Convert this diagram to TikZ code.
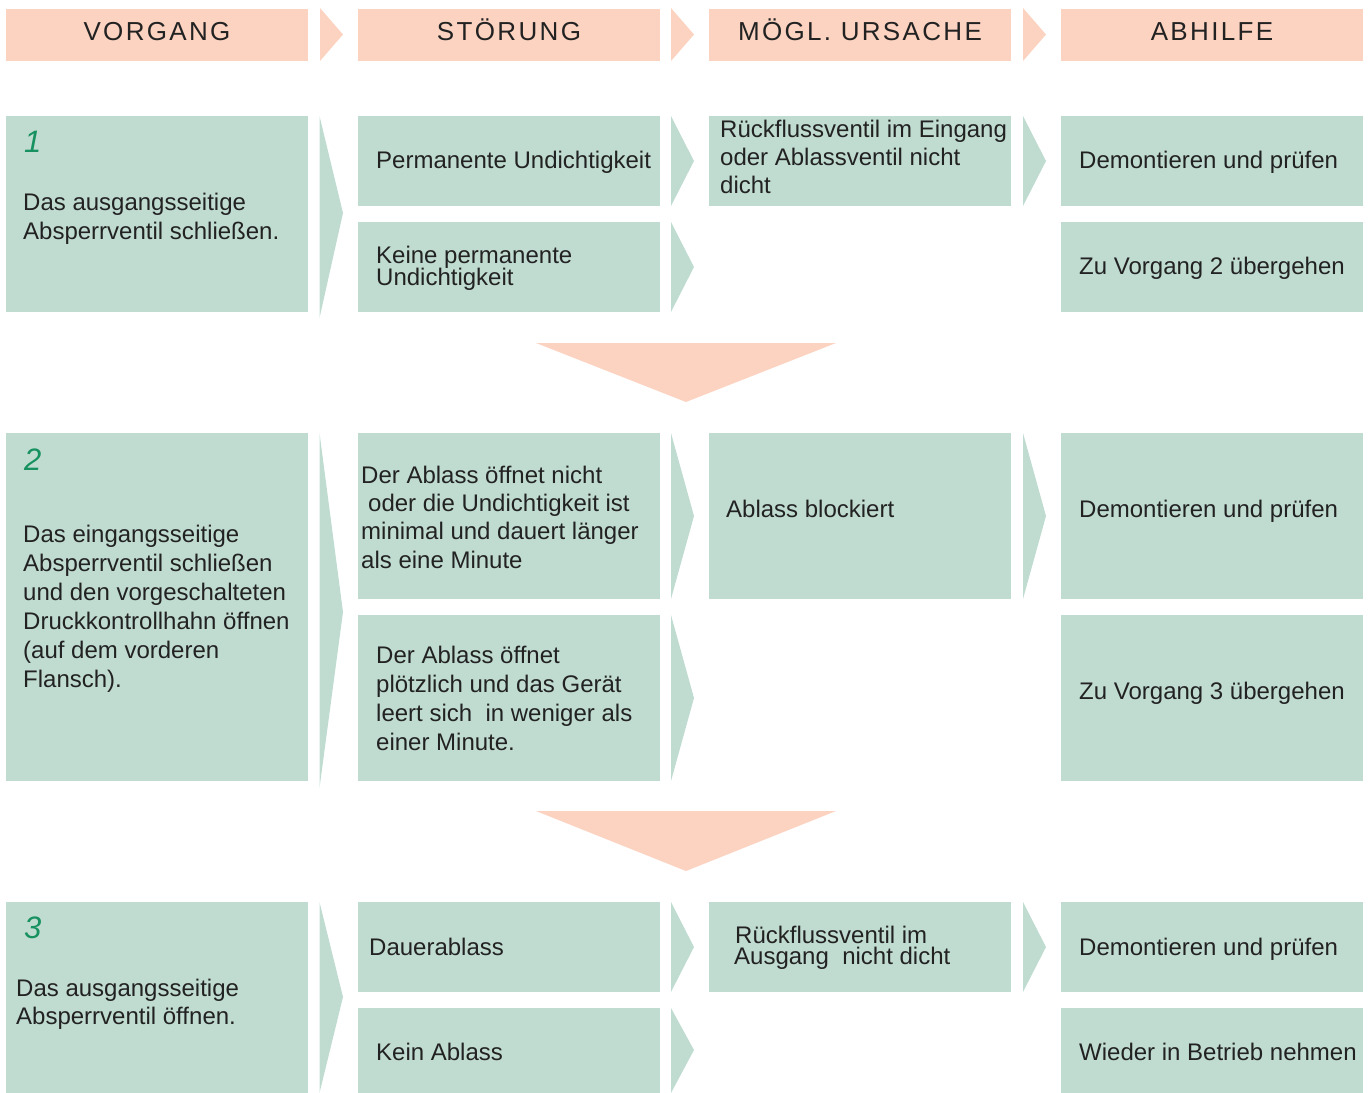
\documentclass[tikz,border=0pt]{standalone}
\usepackage{fontspec}
\setmainfont{Liberation Sans}
\definecolor{peach}{HTML}{FCD3C1}
\definecolor{mint}{HTML}{C0DCD1}
\definecolor{txtc}{HTML}{222222}
\definecolor{numc}{HTML}{17915F}
\begin{document}
\begin{tikzpicture}[x=1pt,y=-1pt,
  hbox/.style={fill=peach,inner sep=0pt,outer sep=0pt,anchor=north west,minimum width=302pt,minimum height=52pt},
  gbox/.style={fill=mint,inner sep=0pt,outer sep=0pt,anchor=north west,minimum width=302pt},
  htxt/.style={text=txtc,inner sep=0pt,anchor=base,font=\fontsize{26}{30}\selectfont\addfontfeature{LetterSpace=9}},
  txt/.style={text=txtc,inner sep=0pt,anchor=base west,align=left,font=\fontsize{24}{29}\selectfont},
  tighttxt/.style={txt,font=\fontsize{24}{22.5}\selectfont},
  numtxt/.style={text=numc,inner sep=0pt,anchor=base west,font=\fontsize{31}{31}\selectfont\itshape},
  chev/.style={fill=mint},
  hchev/.style={fill=peach},
  down/.style={fill=peach}]
\useasboundingbox (0,0) rectangle (1369,1093);
% header
\node[hbox] (h1) at (6,9) {};
\node[hbox] (h2) at (358,9) {};
\node[hbox] (h3) at (709,9) {};
\node[hbox] (h4) at (1061,9) {};
\node[htxt] (ht1) at (157,40) {VORGANG};
\node[htxt] (ht2) at (509,40) {STÖRUNG};
\node[htxt] (ht3) at (860,40) {MÖGL. URSACHE};
\node[htxt] (ht4) at (1212,40) {ABHILFE};
\foreach \x in {320,671,1023}{\fill[hchev] (\x,8) -- (\x+23,34.5) -- (\x,61) -- cycle;}
% row 1
\node[gbox,minimum height=196pt] (a1) at (6,116) {};
\node[gbox,minimum height=90pt] (b1) at (358,116) {};
\node[gbox,minimum height=90pt] (b2) at (358,222) {};
\node[gbox,minimum height=90pt] (c1) at (709,116) {};
\node[gbox,minimum height=90pt] (d1) at (1061,116) {};
\node[gbox,minimum height=90pt] (d2) at (1061,222) {};
\fill[chev] (319.5,116) -- (343,213) -- (319.5,318) -- cycle;
\fill[chev] (671,116) -- (694,161) -- (671,206) -- cycle;
\fill[chev] (671,222) -- (694,267) -- (671,312) -- cycle;
\fill[chev] (1023,116) -- (1046,161) -- (1023,206) -- cycle;
\node[numtxt] (n1) at (24,152) {1};
\node[txt] (ta1) at (23,239) {Das ausgangsseitige\\Absperrventil schließen.};
\node[txt] (tb1) at (376,168) {Permanente Undichtigkeit};
\node[tighttxt] (tb2) at (376,285.5) {Keine permanente\\Undichtigkeit};
\node[txt,font=\fontsize{24}{28}\selectfont] (tc1) at (720,193) {Rückflussventil im Eingang\\oder Ablassventil nicht\\dicht};
\node[txt] (td1) at (1079,168) {Demontieren und prüfen};
\node[txt] (td2) at (1079,274) {Zu Vorgang 2 übergehen};
% down arrow 1
\fill[down] (536,343) -- (836,343) -- (686,402) -- cycle;
% row 2
\node[gbox,minimum height=348pt] (a2) at (6,433) {};
\node[gbox,minimum height=166pt] (b3) at (358,433) {};
\node[gbox,minimum height=166pt] (b4) at (358,615) {};
\node[gbox,minimum height=166pt] (c2) at (709,433) {};
\node[gbox,minimum height=166pt] (d3) at (1061,433) {};
\node[gbox,minimum height=166pt] (d4) at (1061,615) {};
\fill[chev] (319.5,433) -- (343,612) -- (319.5,788) -- cycle;
\fill[chev] (671,433) -- (694,516) -- (671,599) -- cycle;
\fill[chev] (671,615) -- (694,698) -- (671,781) -- cycle;
\fill[chev] (1023,433) -- (1046,516) -- (1023,599) -- cycle;
\node[numtxt] (n2) at (24,470) {2};
\node[txt] (ta2) at (23,687) {Das eingangsseitige\\Absperrventil schließen\\und den vorgeschalteten\\Druckkontrollhahn öffnen\\(auf dem vorderen\\Flansch).};
\node[txt,font=\fontsize{24}{28.3}\selectfont] (tb3) at (361,568) {Der Ablass öffnet nicht\\\hspace{7pt}oder die Undichtigkeit ist\\minimal und dauert länger\\als eine Minute};
\node[txt] (tb4) at (376,750) {Der Ablass öffnet\\plötzlich und das Gerät\\leert sich ~in weniger als\\einer Minute.};
\node[txt] (tc2) at (726,517) {Ablass blockiert};
\node[txt] (td3) at (1079,517) {Demontieren und prüfen};
\node[txt] (td4) at (1079,699) {Zu Vorgang 3 übergehen};
% down arrow 2
\fill[down] (536,811) -- (836,811) -- (686,871) -- cycle;
% row 3
\node[gbox,minimum height=191pt] (a3) at (6,902) {};
\node[gbox,minimum height=90pt] (b5) at (358,902) {};
\node[gbox,minimum height=85pt] (b6) at (358,1008) {};
\node[gbox,minimum height=90pt] (c3) at (709,902) {};
\node[gbox,minimum height=90pt] (d5) at (1061,902) {};
\node[gbox,minimum height=85pt] (d6) at (1061,1008) {};
\fill[chev] (319.5,902) -- (343,997) -- (319.5,1093) -- cycle;
\fill[chev] (671,902) -- (694,947) -- (671,992) -- cycle;
\fill[chev] (671,1008) -- (694,1050) -- (671,1093) -- cycle;
\fill[chev] (1023,902) -- (1046,947) -- (1023,992) -- cycle;
\node[numtxt] (n3) at (24,938) {3};
\node[txt,font=\fontsize{24}{28.5}\selectfont] (ta3) at (16,1024.5) {Das ausgangsseitige\\Absperrventil öffnen.};
\node[txt] (tb5) at (369,955) {Dauerablass};
\node[txt] (tb6) at (376,1060) {Kein Ablass};
\node[txt,font=\fontsize{24}{21}\selectfont] (tc3) at (734,964) {\hspace{1pt}Rückflussventil im\\Ausgang ~nicht dicht};
\node[txt] (td5) at (1079,955) {Demontieren und prüfen};
\node[txt] (td6) at (1079,1060) {Wieder in Betrieb nehmen};
\end{tikzpicture}
\end{document}
